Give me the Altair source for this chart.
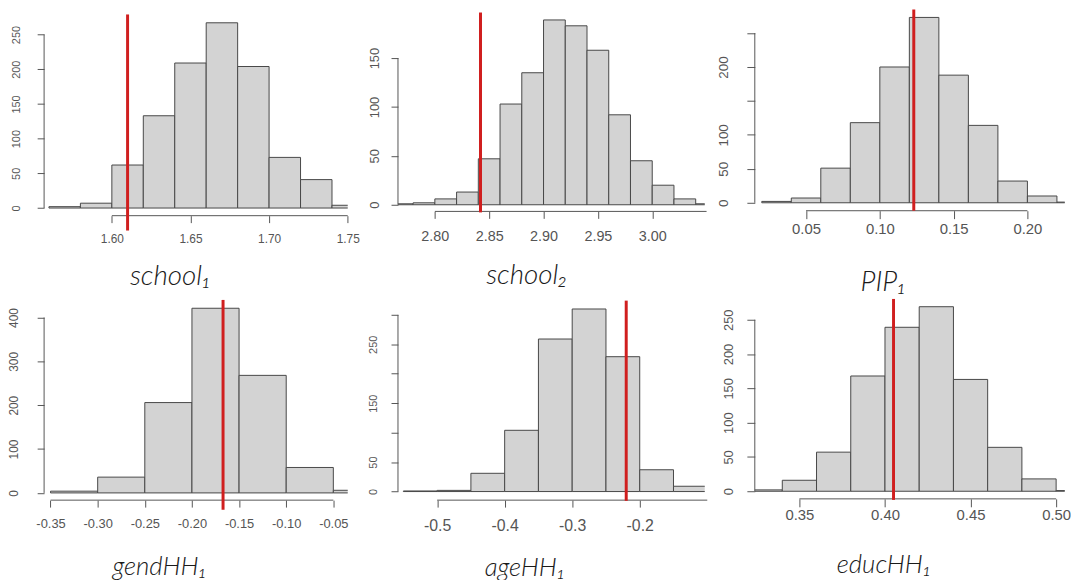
import altair as alt
import pandas as pd

# ---------------- data ----------------
names = ["school\u2081", "school\u2082", "PIP\u2081", "gendHH\u2081", "ageHH\u2081", "educHH\u2081"]

edges_1 = [1.56, 1.58, 1.60, 1.62, 1.64, 1.66, 1.68, 1.70, 1.72, 1.74, 1.76]
counts_1 = [2, 7, 62, 133, 209, 267, 204, 73, 41, 4]
edges_2 = [2.76, 2.78, 2.80, 2.82, 2.84, 2.86, 2.88, 2.90, 2.92, 2.94, 2.96, 2.98, 3.00, 3.02, 3.04, 3.06]
counts_2 = [1, 2, 6, 13, 47, 103, 135, 189, 183, 158, 92, 45, 20, 6, 1]
edges_3 = [0.02, 0.04, 0.06, 0.08, 0.10, 0.12, 0.14, 0.16, 0.18, 0.20, 0.22, 0.24]
counts_3 = [2, 7, 51, 118, 200, 273, 188, 114, 32, 10, 1]
edges_4 = [-0.35, -0.30, -0.25, -0.20, -0.15, -0.10, -0.05, 0.00]
counts_4 = [4, 36, 206, 421, 268, 58, 6]
edges_5 = [-0.55, -0.50, -0.45, -0.40, -0.35, -0.30, -0.25, -0.20, -0.15, -0.10]
counts_5 = [1, 2, 31, 104, 259, 310, 229, 37, 9]
edges_6 = [0.32, 0.34, 0.36, 0.38, 0.40, 0.42, 0.44, 0.46, 0.48, 0.50, 0.52]
counts_6 = [2, 16, 57, 168, 239, 269, 163, 64, 18, 1]

# observed value (red vertical line) and its vertical extent in count units
red_x = [1.61, 2.842, 0.123, -0.167, -0.220, 0.405]
red_top = [279, 196.6, 284.7, 440, 324.2, 280.3]
red_bottom = [-32.4, -7.8, -11.7, -38.4, -15.8, -12.6]

x_ticks = [
    [1.60, 1.65, 1.70, 1.75],
    [2.80, 2.85, 2.90, 2.95, 3.00, 3.05],
    [0.05, 0.10, 0.15, 0.20],
    [-0.35, -0.30, -0.25, -0.20, -0.15, -0.10, -0.05],
    [-0.5, -0.4, -0.3, -0.2, -0.1],
    [0.35, 0.40, 0.45, 0.50],
]
x_fmt = [".2f", ".2f", ".2f", ".2f", ".1f", ".2f"]
y_ticks = [
    [0, 50, 100, 150, 200, 250],
    [0, 50, 100, 150],
    [0, 50, 100, 150, 200, 250],
    [0, 100, 200, 300, 400],
    [0, 50, 100, 150, 200, 250, 300],
    [0, 50, 100, 150, 200, 250],
]
y_labelled = [
    [0, 50, 100, 150, 200, 250],
    [0, 50, 100, 150],
    [0, 50, 100, 200],
    [0, 100, 200, 300, 400],
    [0, 50, 150, 250],
    [0, 50, 100, 150, 200, 250],
]
all_edges = [edges_1, edges_2, edges_3, edges_4, edges_5, edges_6]
all_counts = [counts_1, counts_2, counts_3, counts_4, counts_5, counts_6]

# ---------------- scale / layout settings ----------------
x_domains = [
    [1.55692, 1.75000],
    [2.76607, 3.04833],
    [0.01528, 0.22530],
    [-0.35683, -0.03475],
    [-0.55798, -0.10371],
    [0.32394, 0.50504],
]
y_domains = [
    [-11.0, 289.0],
    [-6.8, 201.7],
    [-11.7, 287.6],
    [-16.5, 451.3],
    [-14.6, 333.8],
    [-11.1, 286.1],
]
widths = [306.3, 309.5, 312.7, 306.3, 309.5, 312.7]
heights = [210, 205.7, 205, 207, 207, 205.7]
tick_size = [7, 7, 8, 7, 7, 8]
x_lab_size = [12, 14.5, 15, 13, 16, 15]
y_lab_size = [11, 13, 13.5, 12, 11, 13]
x_lab_pad = [11, 11.2, 3.3, 10.2, 10.4, 0.5]
y_lab_pad = [15.6, 9.7, 16.9, 16.5, 12.2, 11.1]
title_dx = [-25.5, -24.7, -26.5, -36.4, -26.5, -25.9]
title_off = [19, 20, 33, 24, 22, 30]
title_size = [28, 28, 28, 26, 26, 26]

AX = "#555555"
FONT = "Liberation Sans"


def panel(i):
    e = all_edges[i]
    c = all_counts[i]
    bars_df = pd.DataFrame({"lo": e[:-1], "hi": e[1:], "count": c})
    xs = alt.Scale(domain=x_domains[i], nice=False, zero=False)
    ys = alt.Scale(domain=y_domains[i], nice=False, zero=False)

    lab_list = ",".join(str(v) for v in y_labelled[i])
    x_axis = alt.Axis(
        values=x_ticks[i], tickCount=40, title=None, grid=False, domain=False,
        tickSize=tick_size[i], tickColor=AX, tickWidth=1,
        labelExpr="replace(format(datum.value, '%s'), '\u2212', '-')" % x_fmt[i],
        labelFont=FONT, labelFontSize=x_lab_size[i], labelColor=AX,
        labelPadding=x_lab_pad[i], labelFlush=False, labelOverlap=False,
    )
    y_axis = alt.Axis(
        values=y_ticks[i], tickCount=40, title=None, grid=False, domain=False,
        tickSize=tick_size[i], tickColor=AX, tickWidth=1,
        labelExpr="indexof([%s], datum.value) >= 0 ? datum.label : ''" % lab_list,
        labelAngle=270, labelAlign="center", labelBaseline="bottom",
        labelFont=FONT, labelFontSize=y_lab_size[i], labelColor=AX,
        labelPadding=y_lab_pad[i], labelFlush=False, labelOverlap=False,
    )

    bars = alt.Chart(bars_df).mark_rect(
        fill="#d3d3d3", stroke="#474747", strokeWidth=1, clip=True
    ).encode(
        x=alt.X("lo:Q", scale=xs, axis=x_axis),
        x2="hi:Q",
        y=alt.Y("count:Q", scale=ys, axis=y_axis),
        y2=alt.datum(0),
    )

    yline_df = pd.DataFrame({"x": [x_domains[i][0]], "a": [y_ticks[i][0]], "b": [y_ticks[i][-1]]})
    yline = alt.Chart(yline_df).mark_rule(color=AX, strokeWidth=1).encode(
        x=alt.X("x:Q"), y=alt.Y("a:Q"), y2="b:Q"
    )
    xline_df = pd.DataFrame({"y": [y_domains[i][0]], "a": [x_ticks[i][0]], "b": [x_ticks[i][-1]]})
    xline = alt.Chart(xline_df).mark_rule(color=AX, strokeWidth=1).encode(
        y=alt.Y("y:Q"), x=alt.X("a:Q"), x2="b:Q"
    )
    red_df = pd.DataFrame({"x": [red_x[i]], "a": [red_bottom[i]], "b": [red_top[i]]})
    red = alt.Chart(red_df).mark_rule(color="#d01f1f", strokeWidth=3).encode(
        x=alt.X("x:Q"), y=alt.Y("a:Q"), y2="b:Q"
    )

    return alt.layer(bars, yline, xline, red).properties(
        width=widths[i], height=heights[i],
        title=alt.TitleParams(
            text=names[i], orient="bottom", anchor="middle", dx=title_dx[i],
            offset=title_off[i], font="Lato", fontSize=title_size[i],
            fontStyle="italic", fontWeight=300, color="#1a1a1a",
        ),
    )


chart = alt.concat(
    *[panel(i) for i in range(6)], columns=3,
    spacing=alt.RowColnumber(row=80, column=50), bounds="flush",
).properties(
    padding={"left": 7.5, "top": 5, "right": 0, "bottom": 0},
    background="white",
).configure_view(stroke=None)

chart.save("out.html", embed_options={"renderer": "svg", "actions": False})
